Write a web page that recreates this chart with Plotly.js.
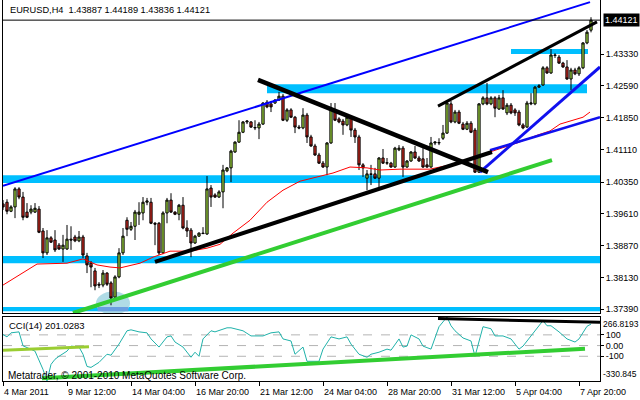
<!DOCTYPE html>
<html><head><meta charset="utf-8">
<script src="https://cdn.plot.ly/plotly-3.0.1.min.js"></script>
<style>html,body{margin:0;padding:0;background:#fff}#chart{width:640px;height:400px}</style>
</head><body><div id="chart"></div>
<script>
// ---- EURUSD H4 bars (4 Mar 2011 20:00 .. 8 Apr 2011 08:00) ----
const barOpen = [1.3984,1.3988,1.3967,1.3977,1.4019,1.4000,1.3965,1.3965,1.3965,1.3972,
1.3921,1.3870,1.3905,1.3900,1.3888,1.3879,1.3879,1.3902,1.3907,1.3898,
1.3907,1.3863,1.3846,1.3828,1.3797,1.3795,1.3823,1.3800,1.3767,1.3814,
1.3870,1.3946,1.3925,1.3932,1.3960,1.3963,1.3988,1.3988,1.3939,1.3939,
1.3870,1.3963,1.3993,1.3965,1.3960,1.3981,1.3928,1.3923,1.3893,1.3909,
1.3916,1.3914,1.4021,1.4005,1.4000,1.4012,1.4061,1.4068,1.4105,1.4128,
1.4151,1.4175,1.4175,1.4161,1.4161,1.4170,1.4221,1.4217,1.4219,1.4226,
1.4235,1.4179,1.4203,1.4186,1.4163,1.4161,1.4191,1.4140,1.4119,1.4098,
1.4079,1.4070,1.4126,1.4203,1.4182,1.4177,1.4168,1.4186,1.4156,1.4140,
1.4075,1.4044,1.4054,1.4054,1.4044,1.4091,1.4079,1.4079,1.4070,1.4110,
1.4114,1.4070,1.4084,1.4105,1.4091,1.4089,1.4075,1.4070,1.4126,1.4126,
1.4137,1.4149,1.4217,1.4175,1.4198,1.4170,1.4158,1.4172,1.4156,1.4058,
1.4217,1.4231,1.4217,1.4231,1.4205,1.4231,1.4196,1.4214,1.4203,1.4198,
1.4168,1.4163,1.4217,1.4217,1.4256,1.4261,1.4301,1.4289,1.4331,1.4326,
1.4312,1.4303,1.4275,1.4296,1.4287,1.4301,1.4359,1.43887];
const barHigh = [1.3993,1.3995,1.3981,1.4023,1.4023,1.4012,1.3986,1.3981,1.3986,1.3979,
1.3928,1.3923,1.3909,1.3923,1.3893,1.3912,1.3935,1.3932,1.3912,1.3921,
1.3912,1.3870,1.3851,1.3835,1.3802,1.3830,1.3825,1.3804,1.3818,1.3881,
1.3928,1.3953,1.3942,1.3970,1.3988,1.4000,1.3998,1.3998,1.3942,1.3942,
1.3967,1.3998,1.4009,1.3967,1.3984,1.4000,1.3946,1.3928,1.3912,1.3918,
1.3930,1.4049,1.4028,1.4009,1.4016,1.4075,1.4070,1.4110,1.4130,1.4179,
1.4177,1.4179,1.4177,1.4179,1.4175,1.4221,1.4226,1.4224,1.4228,1.4245,
1.4240,1.4207,1.4207,1.4189,1.4168,1.4207,1.4196,1.4145,1.4124,1.4103,
1.4084,1.4128,1.4219,1.4219,1.4186,1.4182,1.4191,1.4189,1.4161,1.4145,
1.4079,1.4063,1.4075,1.4068,1.4093,1.4112,1.4091,1.4082,1.4117,1.4121,
1.4119,1.4086,1.4107,1.4119,1.4096,1.4114,1.4091,1.4140,1.4130,1.4137,
1.4168,1.4226,1.4224,1.4203,1.4203,1.4175,1.4177,1.4177,1.4161,1.4219,
1.4235,1.4266,1.4235,1.4235,1.4238,1.4249,1.4219,1.4219,1.4207,1.4203,
1.4172,1.4224,1.4242,1.4259,1.4263,1.4305,1.4305,1.4345,1.4335,1.4331,
1.4315,1.4319,1.4301,1.4301,1.4305,1.4361,1.4389,1.44189];
const barLow = [1.3970,1.3960,1.3965,1.3951,1.3995,1.3946,1.3951,1.3960,1.3963,1.3916,
1.3858,1.3865,1.3893,1.3872,1.3877,1.3849,1.3877,1.3877,1.3895,1.3895,
1.3858,1.3823,1.3790,1.3783,1.3788,1.3790,1.3793,1.3748,1.3760,1.3811,
1.3865,1.3909,1.3921,1.3900,1.3935,1.3946,1.3981,1.3937,1.3888,1.3865,
1.3867,1.3939,1.3963,1.3958,1.3946,1.3925,1.3907,1.3860,1.3891,1.3907,
1.3914,1.3912,1.3977,1.3998,1.3998,1.3974,1.4058,1.4035,1.4103,1.4126,
1.4149,1.4170,1.4161,1.4156,1.4135,1.4168,1.4207,1.4198,1.4217,1.4224,
1.4177,1.4175,1.4184,1.4149,1.4158,1.4158,1.4126,1.4117,1.4096,1.4077,
1.4068,1.4051,1.4124,1.4177,1.4172,1.4145,1.4165,1.4140,1.4126,1.4063,
1.4047,1.4016,1.4028,1.4042,1.4021,1.4077,1.4075,1.4068,1.4068,1.4107,
1.4047,1.4068,1.4082,1.4089,1.4082,1.4068,1.4068,1.4068,1.4121,1.4121,
1.4133,1.4147,1.4172,1.4172,1.4170,1.4156,1.4156,1.4149,1.4056,1.4056,
1.4214,1.4214,1.4214,1.4186,1.4203,1.4203,1.4191,1.4193,1.4189,1.4165,
1.4158,1.4161,1.4214,1.4214,1.4254,1.4259,1.4287,1.4287,1.4324,1.4310,
1.4301,1.4273,1.4249,1.4284,1.4282,1.4298,1.4356,1.43836];
const barClose = [1.3977,1.3967,1.3977,1.4019,1.4000,1.3953,1.3953,1.3972,1.3974,1.3918,
1.3870,1.3905,1.3895,1.3877,1.3879,1.3888,1.3902,1.3900,1.3898,1.3907,
1.3865,1.3842,1.3837,1.3793,1.3795,1.3823,1.3797,1.3765,1.3814,1.3870,
1.3909,1.3925,1.3932,1.3965,1.3965,1.3988,1.3991,1.3939,1.3937,1.3870,
1.3963,1.3993,1.3965,1.3960,1.3981,1.3928,1.3921,1.3893,1.3909,1.3916,
1.3915,1.4019,1.4000,1.4000,1.4012,1.4063,1.4068,1.4107,1.4128,1.4151,
1.4175,1.4177,1.4163,1.4162,1.4170,1.4219,1.4210,1.4210,1.4226,1.4235,
1.4179,1.4203,1.4186,1.4163,1.4161,1.4191,1.4140,1.4119,1.4098,1.4079,
1.4070,1.4126,1.4207,1.4179,1.4175,1.4168,1.4186,1.4156,1.4140,1.4075,
1.4068,1.4054,1.4053,1.4044,1.4091,1.4079,1.4080,1.4070,1.4114,1.4114,
1.4070,1.4084,1.4105,1.4091,1.4084,1.4070,1.4070,1.4126,1.4128,1.4127,
1.4149,1.4219,1.4175,1.4198,1.4172,1.4158,1.4172,1.4151,1.4058,1.4217,
1.4231,1.4217,1.4231,1.4207,1.4231,1.4205,1.4214,1.4196,1.4196,1.4168,
1.4161,1.4219,1.4219,1.4256,1.4259,1.4301,1.4289,1.4331,1.4330,1.4312,
1.4303,1.4275,1.4296,1.4287,1.4301,1.4359,1.4384,1.44121];

// moving average (sampled along the bars)
const maBar = [0,8.5,16,20,23.5,26.75,29.25,34.25,37.5,41.75,46.75,51,54.25,57.5,61.75,66,70,74.25,82.5,86.75,91,94.25,99.25,106.75,111.75,116.75,121.75,128.5,133.5,136.75,139.25,145,146.75];
const maVal = [1.3795,1.3844,1.3846,1.3856,1.3842,1.3837,1.3835,1.3846,1.3860,1.3874,1.3874,1.3881,1.3890,1.3916,1.3946,1.3988,1.4016,1.4037,1.4056,1.4070,1.4068,1.4063,1.4065,1.4065,1.4075,1.4086,1.4105,1.4126,1.4144,1.4154,1.4170,1.4186,1.4198];

// CCI(14)
const cciBar = [0,1,2,4,5,7,8,10,11,12,13,14,16,17,19,20,21,22,24,26,27,29,31,32,34,36,37,39,41,42,43,45,47,48,49,50,52,53,56,57,60,62,65,67,69,70,72,73,75,76,79,80,82,84,86,87,89,91,92,94,96,97,99,100,101,102,104,105,107,109,110,111,112,113,115,117,118,119,120,122,123,125,127,128,129,130,132,134,135,136,137,139,141,143,144,146,147];
const cciVal = [103,81,119,128,-2,-33,-52,-223,-330.845,-176,-128,-100,-52,-5,-14,-81,-195,-204,-157,-81,-90,14,138,147,128,119,62,-14,81,90,33,-14,-109,-62,-100,62,138,128,166,166,138,90,90,119,128,62,43,-81,-14,-147,-147,-33,81,62,81,14,-81,-109,-81,-62,-33,-43,62,-14,-5,100,62,-5,-33,176,223,266.8193,185,138,71,43,-100,43,176,157,90,90,62,14,-33,-5,90,176,233,185,185,128,62,33,62,180,201.0283];

// axis labels
const priceTicks = [1.37390,1.38130,1.38870,1.39610,1.40350,1.41110,1.41850,1.42590,1.43330];
const timeTickBars = [0,16,32,48,64,80,96,112,128,144];
const timeTickLabels = ['4 Mar 2011','9 Mar 12:00','14 Mar 04:00','16 Mar 20:00','21 Mar 12:00','24 Mar 04:00','28 Mar 20:00','31 Mar 12:00','5 Apr 04:00','7 Apr 20:00'];
const cciTicks = [100,0,-100];
const cciTickLabels = ['100','0.00','-100'];
const cciMax = 266.8193, cciMin = -330.845;
const lastPrice = 1.44121;

// drawn objects: [bar0, price0, bar1, price1]
const blueChannelUp = [0,1.4026,146.75,1.4454];
const blueChannelLow = [121.75,1.4109,149.25,1.4186];
const blueSteep = [119.25,1.4058,149.25,1.4303];
const blackDown = [63.75,1.4273,121.25,1.4058];
const blackUpLow = [38,1.3849,122.25,1.4105];
const blackUpHigh = [108.75,1.4212,148.5,1.4408];
const greenSupport = [17.5,1.3730,137.25,1.4086];
// CCI drawn lines: [bar0, cci0, bar1, cci1]
const cciLimeLine = [0,-43,21.5,-12];
const cciGreenLine = [9.75,-305,145.5,-30];
const cciBlackLine = [108.75,252,149.25,218];
// zones: [priceLo, priceHi, bar0, bar1]
const zones = [[1.4033,1.4051,0,149.25],[1.3846,1.3863,0,149.25],[1.3734,1.3744,0,149.25],[1.4242,1.4263,66,146],[1.4333,1.4345,127,146.25]];
const lowEllipse = [23.25,1.3726,31.75,1.3780];

const bars = barOpen.map((_, i) => i);
const F = 'Liberation Sans, Arial, sans-serif';
const XR = [0, 149.25];

function seg(a, color, width, xa, ya) {
  return {type:'scatter', mode:'lines', x:[a[0],a[2]], y:[a[1],a[3]], xaxis:xa||'x', yaxis:ya||'y',
    line:{color:color, width:width}, hoverinfo:'skip', showlegend:false, cliponaxis:true};
}

const traces = [
  {type:'candlestick', x:bars, open:barOpen, high:barHigh, low:barLow, close:barClose,
   xaxis:'x', yaxis:'y', whiskerwidth:0,
   increasing:{line:{color:'#000000',width:1}, fillcolor:'#a6e040'},
   decreasing:{line:{color:'#000000',width:1}, fillcolor:'#d82a20'},
   hoverinfo:'skip', showlegend:false},
  {type:'scatter', mode:'lines', x:maBar, y:maVal, line:{color:'#ff0000', width:1}, hoverinfo:'skip', showlegend:false},
  seg(blueChannelUp, '#0000ff', 2),
  seg(blueChannelLow, '#1010ee', 2.5),
  seg(blueSteep, '#1010ee', 3),
  seg(greenSupport, '#32cd32', 4),
  seg(blackDown, '#000000', 4.5),
  seg(blackUpLow, '#000000', 4),
  seg(blackUpHigh, '#000000', 3),
  {type:'scatter', mode:'lines', x:cciBar, y:cciVal, xaxis:'x2', yaxis:'y2', line:{color:'#20b2aa', width:1}, hoverinfo:'skip', showlegend:false},
  seg(cciLimeLine, '#9acd32', 3, 'x2', 'y2'),
  seg(cciGreenLine, '#32cd32', 4, 'x2', 'y2'),
  seg(cciBlackLine, '#000000', 3, 'x2', 'y2')
];

const shapes = [];
zones.forEach(z => shapes.push({type:'rect', xref:'x', yref:'y', x0:z[2], x1:z[3], y0:z[0], y1:z[1], fillcolor:'#00bfff', line:{width:0}, layer:'below'}));
shapes.push({type:'circle', xref:'x', yref:'y', x0:lowEllipse[0], x1:lowEllipse[2], y0:lowEllipse[1], y1:lowEllipse[3], fillcolor:'#b0dce6', line:{width:0}, layer:'below'});
shapes.push({type:'rect', xref:'x', yref:'y', x0:lowEllipse[0]+0.4, x1:lowEllipse[2]-0.4, y0:zones[2][0], y1:zones[2][1], fillcolor:'#6a9fe0', line:{width:0}, layer:'below'});
cciTicks.forEach(v => shapes.push({type:'line', xref:'paper', yref:'y2', x0:0, x1:1, y0:v, y1:v, line:{color:'#b4b4b4', width:1, dash:'dash'}, layer:'below'}));
shapes.push({type:'line', xref:'paper', yref:'y', x0:0, x1:1, y0:lastPrice, y1:lastPrice, line:{color:'#000000', width:1}});

const annotations = [
  {xref:'paper', yref:'paper', x:0, xshift:5, xanchor:'left', y:0.9738, yanchor:'middle', showarrow:false,
   text:'EURUSD,H4  1.43887 1.44189 1.43836 1.44121', font:{family:F, size:9.25, color:'#000'}, bgcolor:'#ffffff'},
  {xref:'paper', yref:'y', x:1, xshift:3, xanchor:'left', y:lastPrice, yanchor:'middle', showarrow:false,
   text:'1.44121', font:{family:F, size:9, color:'#ffffff'}, bgcolor:'#000000', borderpad:1},
  {xref:'paper', yref:'paper', x:0, xshift:4, xanchor:'left', y:0.1444, yanchor:'middle', showarrow:false,
   text:'CCI(14) 201.0283', font:{family:F, size:9.5, color:'#000'}},
  {xref:'paper', yref:'paper', x:0, xshift:3, xanchor:'left', y:0.0157, yanchor:'middle', showarrow:false,
   text:'Metatrader, © 2001-2010 MetaQuotes Software Corp.', font:{family:F, size:10, color:'#000'}},
  {xref:'paper', yref:'y2', x:1, xshift:1, xanchor:'left', y:cciMax, yanchor:'top', showarrow:false,
   text:String(cciMax), font:{family:F, size:8.5, color:'#000'}},
  {xref:'paper', yref:'y2', x:1, xshift:1, xanchor:'left', y:cciMin, yanchor:'bottom', showarrow:false,
   text:String(cciMin), font:{family:F, size:8.5, color:'#000'}}
];
timeTickBars.forEach((b, k) => annotations.push({xref:'x2', yref:'paper', x:b, xshift:-1, xanchor:'left', y:-0.029, yanchor:'middle',
  showarrow:false, text:timeTickLabels[k], font:{family:F, size:9, color:'#000'}}));

const layout = {
  width:640, height:400, margin:{l:3, r:40, t:0, b:19}, paper_bgcolor:'#ffffff', plot_bgcolor:'#ffffff',
  showlegend:false, dragmode:false, boxgap:0.2,
  xaxis:{domain:[0,1], range:XR, anchor:'y', showline:true, mirror:true, linecolor:'#000', linewidth:1,
    showticklabels:false, ticks:'', showgrid:false, zeroline:false, rangeslider:{visible:false}, fixedrange:true},
  yaxis:{domain:[0.17848,1], range:[1.3730,1.4459], side:'right', anchor:'x', showline:true, mirror:true, linecolor:'#000', linewidth:1,
    ticks:'outside', ticklen:3, tickcolor:'#000', tickvals:priceTicks, ticktext:priceTicks.map(v => v.toFixed(5)),
    tickfont:{family:F, size:9, color:'#000'}, showgrid:false, zeroline:false, fixedrange:true},
  xaxis2:{domain:[0,1], range:XR, anchor:'y2', showline:true, mirror:true, linecolor:'#000', linewidth:1,
    ticks:'outside', ticklen:4, tickcolor:'#000', tickvals:timeTickBars, showticklabels:false, showgrid:false, zeroline:false, fixedrange:true},
  yaxis2:{domain:[0,0.16798], range:[cciMin,cciMax], side:'right', anchor:'x2', showline:true, mirror:true, linecolor:'#000', linewidth:1,
    ticks:'outside', ticklen:3, tickcolor:'#000', tickvals:cciTicks, ticktext:cciTickLabels,
    tickfont:{family:F, size:9, color:'#000'}, showgrid:false, zeroline:false, fixedrange:true},
  shapes:shapes, annotations:annotations
};

Plotly.newPlot('chart', traces, layout, {displayModeBar:false, staticPlot:true});
</script></body></html>
